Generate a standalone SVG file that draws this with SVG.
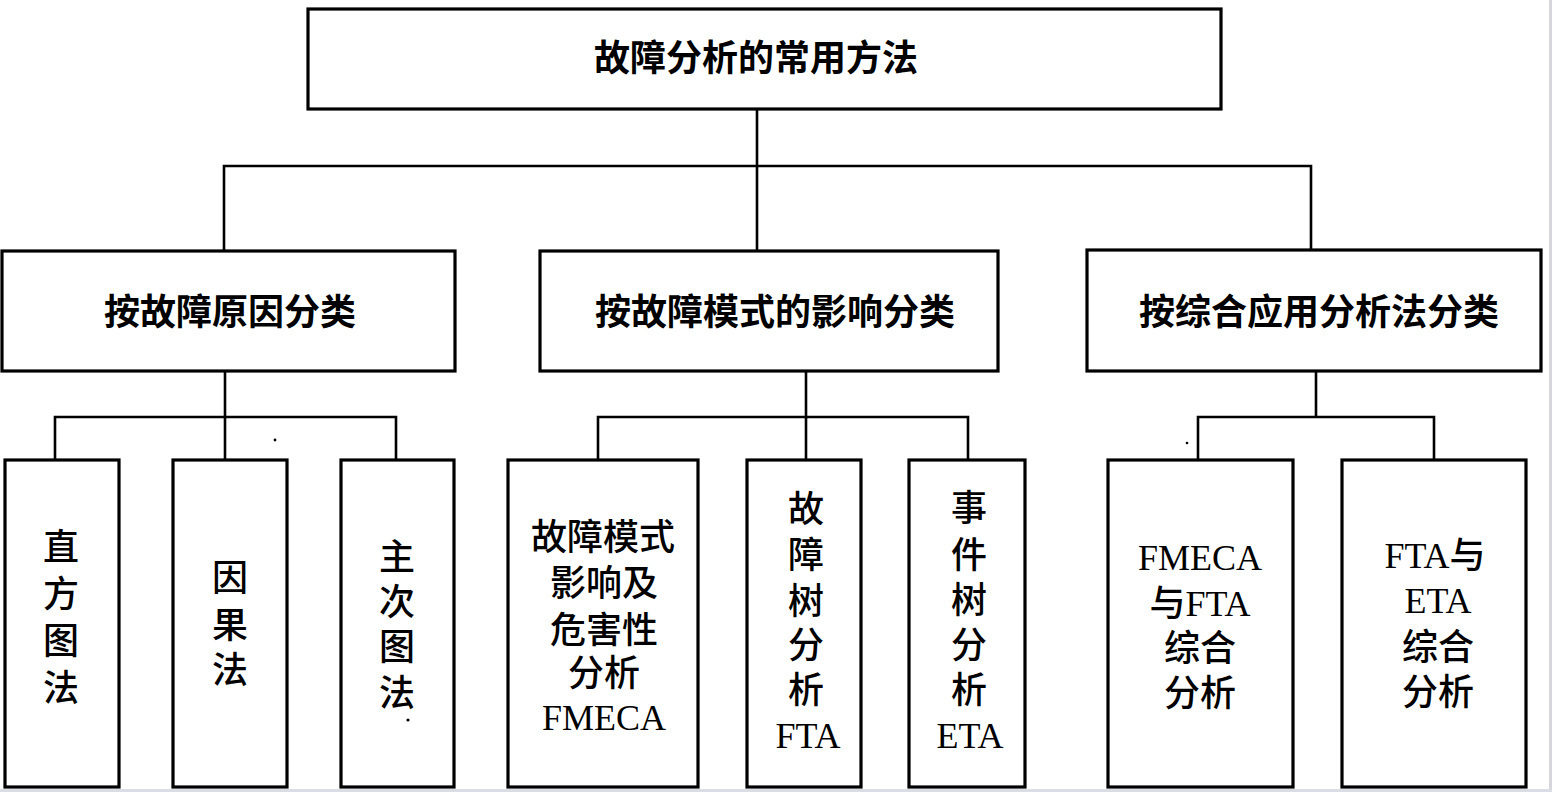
<svg xmlns="http://www.w3.org/2000/svg" width="1552" height="792" viewBox="0 0 1552 792">
<style>
.box{fill:#ffffff;stroke:#000000;stroke-width:3.2}
.con{fill:none;stroke:#000000;stroke-width:2.6}
.h{font-family:"Liberation Serif","Noto Sans CJK SC",serif;font-size:36px;font-weight:700;fill:#000;text-anchor:middle}
.t{font-family:"Liberation Serif","Noto Sans CJK SC",serif;font-size:36px;font-weight:500;fill:#000;text-anchor:middle}
</style>
<rect x="0" y="0" width="1552" height="792" fill="#ffffff"/>
<rect x="1549" y="0" width="3" height="792" fill="#d6d6dc"/>
<rect x="0" y="789" width="1552" height="3" fill="#dcdce4"/>
<g id="connectors">
<path class="con" d="M757 109 V166 M224 251 V166 H1311 V250 M757 166 V251"/>
<path class="con" d="M225 371 V417 M55 460 V417 H396 V460 M225 417 V460"/>
<path class="con" d="M806 371 V417 M598 460 V417 H968 V460 M806 417 V460"/>
<path class="con" d="M1316 371 V417 M1198 460 V417 H1434 V460"/>
</g>
<g id="root">
<rect class="box" x="308" y="9" width="913" height="100"/>
<text class="h" x="756" y="71">故障分析的常用方法</text>
</g>
<g id="cat-cause">
<rect class="box" x="2" y="251" width="453" height="120"/>
<text class="h" x="230" y="325">按故障原因分类</text>
</g>
<g id="cat-mode">
<rect class="box" x="540" y="251" width="458" height="120"/>
<text class="h" x="775" y="325">按故障模式的影响分类</text>
</g>
<g id="cat-combined">
<rect class="box" x="1087" y="250" width="454" height="121"/>
<text class="h" x="1319" y="325">按综合应用分析法分类</text>
</g>
<g id="leaf-histogram">
<rect class="box" x="5" y="460" width="114" height="327"/>
<text class="t"><tspan x="61" y="560">直</tspan><tspan x="61" y="607">方</tspan><tspan x="61" y="654">图</tspan><tspan x="61" y="701">法</tspan></text>
</g>
<g id="leaf-causal">
<rect class="box" x="173" y="460" width="114" height="327"/>
<text class="t"><tspan x="230" y="591">因</tspan><tspan x="230" y="638">果</tspan><tspan x="230" y="683">法</tspan></text>
</g>
<g id="leaf-pareto">
<rect class="box" x="341" y="460" width="113" height="327"/>
<text class="t"><tspan x="397" y="570">主</tspan><tspan x="397" y="615">次</tspan><tspan x="397" y="660">图</tspan><tspan x="397" y="706">法</tspan></text>
<circle cx="408" cy="720" r="1.6" fill="#000"/>
</g>
<g id="leaf-fmeca">
<rect class="box" x="508" y="460" width="190" height="327"/>
<text class="t"><tspan x="603" y="550">故障模式</tspan><tspan x="604" y="596">影响及</tspan><tspan x="604" y="643">危害性</tspan><tspan x="604" y="686">分析</tspan><tspan x="604" y="730">FMECA</tspan></text>
</g>
<g id="leaf-fta">
<rect class="box" x="747" y="460" width="114" height="327"/>
<text class="t"><tspan x="806" y="522">故</tspan><tspan x="806" y="568">障</tspan><tspan x="806" y="614">树</tspan><tspan x="806" y="658">分</tspan><tspan x="806" y="703">析</tspan><tspan x="808" y="748">FTA</tspan></text>
</g>
<g id="leaf-eta">
<rect class="box" x="909" y="460" width="116" height="327"/>
<text class="t"><tspan x="969" y="521">事</tspan><tspan x="969" y="568">件</tspan><tspan x="969" y="613">树</tspan><tspan x="969" y="658">分</tspan><tspan x="969" y="703">析</tspan><tspan x="970" y="748">ETA</tspan></text>
</g>
<g id="leaf-fmeca-fta">
<rect class="box" x="1108" y="460" width="185" height="327"/>
<text class="t"><tspan x="1200" y="570">FMECA</tspan><tspan x="1200" y="616">与FTA</tspan><tspan x="1200" y="661">综合</tspan><tspan x="1200" y="706">分析</tspan></text>
</g>
<g id="leaf-fta-eta">
<rect class="box" x="1342" y="460" width="184" height="327"/>
<text class="t"><tspan x="1435" y="568">FTA与</tspan><tspan x="1438" y="613">ETA</tspan><tspan x="1438" y="660">综合</tspan><tspan x="1438" y="705">分析</tspan></text>
</g>
<circle cx="275" cy="440" r="1.4" fill="#000"/>
<circle cx="1187" cy="443" r="1.3" fill="#000"/>
</svg>
